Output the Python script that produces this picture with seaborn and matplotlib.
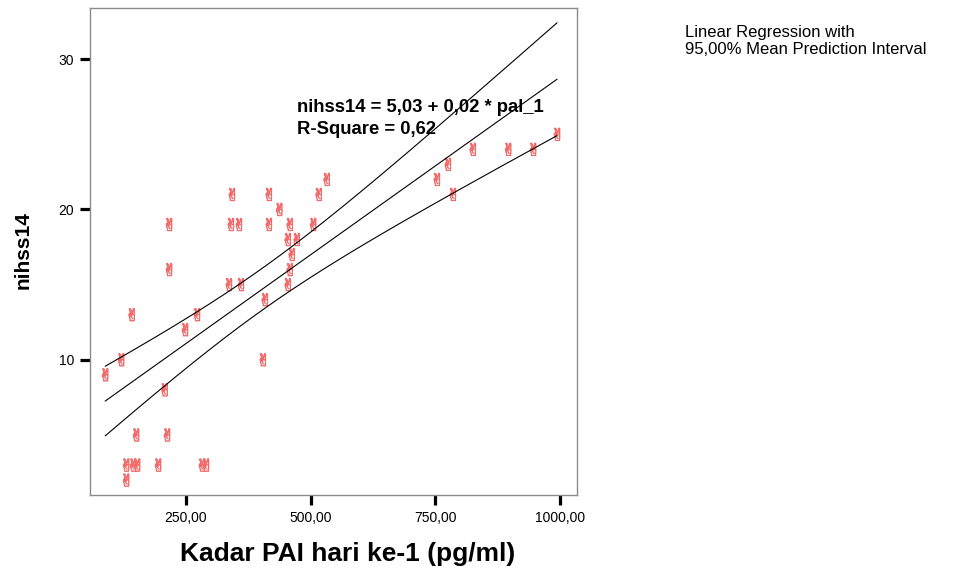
import numpy as np
import pandas as pd
import seaborn as sns
from matplotlib import pyplot as plt
from matplotlib.ticker import FuncFormatter

# PAI day 1 (pg/ml) and NIHSS day 14
pal_1 = [88, 120, 141, 130, 130, 144, 152, 194, 282, 290,
         150, 212, 207, 272, 248, 404, 408, 216, 216, 342,
         416, 437, 340, 356, 416, 336, 360, 532, 516, 458,
         505, 454, 472, 462, 458, 454, 994, 825, 896, 946,
         775, 753, 785]
nihss14 = [9, 10, 13, 3, 2, 3, 3, 3, 3, 3,
           5, 5, 8, 13, 12, 10, 14, 19, 16, 21,
           21, 20, 19, 19, 19, 15, 15, 22, 21, 19,
           19, 18, 18, 17, 16, 15, 25, 24, 24, 24,
           23, 22, 21]

x_ticks = [250, 500, 750, 1000]
y_ticks = [10, 20, 30]

df = pd.DataFrame({"pal_1": pal_1, "nihss14": nihss14})

# OLS fit and 95% interval for the mean
x = df["pal_1"].to_numpy(float)
y = df["nihss14"].to_numpy(float)
n = len(x)
b1, b0 = np.polyfit(x, y, 1)
resid = y - (b0 + b1 * x)
s = np.sqrt((resid ** 2).sum() / (n - 2))
sxx = ((x - x.mean()) ** 2).sum()
t_crit = 2.0195  # t(0.975, 41)
xs = np.linspace(x.min(), x.max(), 200)
fit = b0 + b1 * xs
half = t_crit * s * np.sqrt(1 / n + (xs - x.mean()) ** 2 / sxx)
lines = pd.DataFrame({
    "x": np.tile(xs, 3),
    "y": np.concatenate([fit, fit - half, fit + half]),
    "part": np.repeat(["fit", "lo", "hi"], len(xs)),
})

sns.set_style("white")
plt.rcParams["font.family"] = ["Liberation Sans", "DejaVu Sans"]
plt.rcParams["text.color"] = "black"
plt.rcParams["xtick.color"] = "black"
plt.rcParams["ytick.color"] = "black"

fig = plt.figure(figsize=(9.59, 5.75), dpi=100)
ax = fig.add_axes([90 / 959, 1 - 495 / 575, 487 / 959, 487 / 575])

sns.lineplot(data=lines, x="x", y="y", units="part", estimator=None,
             color="black", linewidth=0.8, ax=ax)
sns.scatterplot(data=df, x="pal_1", y="nihss14", marker="$\u270C$", s=85,
                facecolors="none", edgecolor="#f26a6a", linewidth=0.5,
                ax=ax)

ax.set_xlim(57.5, 1034)
ax.set_ylim(1, 33.4)
ax.set_xticks(x_ticks)
ax.set_yticks(y_ticks)
ax.xaxis.set_major_formatter(FuncFormatter(lambda v, _: f"{v:.2f}".replace(".", ",")))
ax.yaxis.set_major_formatter(FuncFormatter(lambda v, _: f"{v:.0f}"))
ax.tick_params(axis="both", direction="out", length=7.5, width=2.3,
               color="black", labelcolor="black", labelsize=10, pad=4,
               left=True, bottom=True)
for sp in ax.spines.values():
    sp.set_color("#8c8c8c")
    sp.set_linewidth(1.0)
ax.set_xlabel("")
ax.set_ylabel("")

ax.text(0.426, 0.795, "nihss14 = 5,03 + 0,02 * pal_1", transform=ax.transAxes,
        fontsize=13.3, fontweight="bold", va="center")
ax.text(0.426, 0.750, "R-Square = 0,62", transform=ax.transAxes,
        fontsize=13.3, fontweight="bold", va="center")

fig.text(348 / 959, 1 - 554 / 575, "Kadar PAI hari ke-1 (pg/ml)",
         fontsize=19, fontweight="bold", ha="center", va="center")
fig.text(23 / 959, 1 - 250 / 575, "nihss14", rotation=90,
         fontsize=15, fontweight="bold", ha="center", va="center")
fig.text(685 / 959, 1 - 32 / 575, "Linear Regression with", fontsize=12,
         va="center")
fig.text(685 / 959, 1 - 50 / 575, "95,00% Mean Prediction Interval",
         fontsize=12, va="center")

fig.savefig("out.png", dpi=100)
